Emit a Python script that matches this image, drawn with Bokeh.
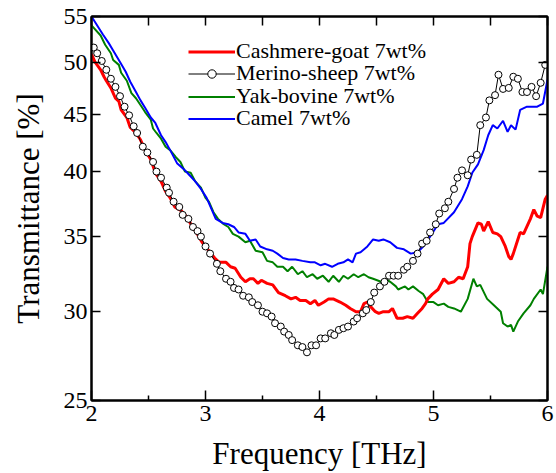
from bokeh.plotting import figure
from bokeh.models import (Range1d, FixedTicker, LogAxis, LinearAxis, Legend, LegendItem,
                          PrintfTickFormatter, CustomJSTickFormatter)
from bokeh.embed import file_html
from bokeh.resources import INLINE

FONT = "Liberation Serif"

x_ticks = [2, 3, 4, 5, 6]
x_minor_ticks = [2.5, 3.5, 4.5, 5.5]
y_ticks = [25, 30, 35, 40, 45, 50, 55]

labels = ["Cashmere-goat 7wt%", "Merino-sheep 7wt%", "Yak-bovine 7wt%", "Camel 7wt%"]

cashmere = [(2.00, 50.9), (2.03, 50.1), (2.08, 49.3), (2.11, 48.6), (2.13, 48.2), (2.17, 47.5),
            (2.21, 46.5), (2.24, 46.2), (2.26, 45.4), (2.31, 44.7), (2.34, 43.8), (2.39, 43.3),
            (2.43, 42.7), (2.47, 41.8), (2.52, 41.0), (2.56, 39.9), (2.61, 39.2), (2.65, 38.4),
            (2.69, 37.9), (2.73, 37.2), (2.79, 36.9), (2.83, 36.5), (2.88, 35.8), (2.92, 35.3),
            (2.97, 34.6), (3.02, 34.1), (3.08, 33.5), (3.12, 33.2), (3.18, 33.2), (3.22, 32.9),
            (3.26, 32.8), (3.31, 32.2), (3.35, 31.9), (3.39, 32.1), (3.42, 32.1), (3.46, 31.8),
            (3.49, 32.0), (3.54, 31.8), (3.59, 31.7), (3.64, 31.2), (3.70, 31.0), (3.75, 30.8),
            (3.79, 30.9), (3.83, 30.7), (3.88, 30.7), (3.92, 30.5), (3.96, 30.7), (3.99, 30.4),
            (4.04, 30.6), (4.08, 30.8), (4.12, 30.8), (4.18, 30.6), (4.23, 30.4), (4.27, 30.2),
            (4.32, 30.0), (4.36, 30.0), (4.39, 30.5), (4.42, 30.6), (4.45, 30.3), (4.49, 30.0),
            (4.52, 29.9), (4.56, 30.0), (4.61, 30.0), (4.64, 30.2), (4.68, 29.6), (4.73, 29.6),
            (4.77, 29.7), (4.82, 29.6), (4.86, 29.9), (4.90, 30.2), (4.93, 30.5), (4.95, 30.8),
            (4.99, 31.1), (5.04, 31.4), (5.09, 32.1), (5.13, 31.8), (5.18, 31.9), (5.22, 32.2),
            (5.26, 32.1), (5.30, 32.9), (5.32, 34.5), (5.34, 35.0), (5.39, 36.0), (5.42, 35.9),
            (5.44, 35.4), (5.48, 36.1), (5.52, 35.3), (5.56, 35.2), (5.59, 35.0), (5.63, 34.3),
            (5.66, 33.6), (5.68, 33.4), (5.70, 33.8), (5.74, 34.8), (5.76, 35.3), (5.79, 35.2),
            (5.85, 36.3), (5.88, 37.0), (5.91, 36.5), (5.94, 36.4), (5.98, 37.8), (6.00, 38.1)]

merino = [(2.02, 51.6), (2.05, 51.0), (2.09, 50.2), (2.13, 49.3), (2.17, 48.4), (2.21, 47.6),
          (2.25, 46.7), (2.29, 45.7), (2.33, 44.9), (2.37, 43.9), (2.40, 43.3), (2.45, 42.1),
          (2.49, 41.6), (2.54, 40.8), (2.57, 40.0), (2.61, 39.5), (2.66, 38.7), (2.68, 38.3),
          (2.72, 37.6), (2.77, 37.2), (2.80, 36.6), (2.85, 36.3), (2.89, 35.7), (2.93, 35.4),
          (2.96, 35.0), (3.00, 34.3), (3.04, 33.8), (3.10, 33.1), (3.13, 32.6), (3.18, 32.1),
          (3.22, 31.9), (3.25, 31.5), (3.29, 31.4), (3.33, 31.0), (3.38, 30.9), (3.41, 30.6),
          (3.46, 30.4), (3.50, 30.0), (3.54, 29.9), (3.58, 29.7), (3.61, 29.3), (3.66, 29.1),
          (3.69, 28.8), (3.73, 28.6), (3.76, 28.3), (3.81, 28.0), (3.85, 27.9), (3.89, 27.6),
          (3.93, 28.0), (3.97, 28.0), (4.01, 28.4), (4.05, 28.4), (4.10, 28.7), (4.13, 28.6),
          (4.17, 28.9), (4.21, 29.0), (4.25, 29.1), (4.30, 29.4), (4.33, 29.6), (4.38, 29.9),
          (4.41, 30.1), (4.45, 30.6), (4.48, 31.2), (4.53, 31.6), (4.57, 31.9), (4.61, 32.3),
          (4.65, 32.3), (4.69, 32.3), (4.74, 32.7), (4.77, 32.9), (4.82, 33.3), (4.86, 33.8),
          (4.90, 34.5), (4.94, 34.7), (4.97, 35.3), (5.02, 35.9), (5.05, 36.7), (5.10, 37.1),
          (5.13, 37.6), (5.18, 38.6), (5.21, 39.5), (5.25, 40.1), (5.30, 39.7), (5.33, 41.0),
          (5.38, 41.4), (5.41, 44.0), (5.46, 44.7), (5.49, 46.3), (5.54, 46.8), (5.57, 48.8),
          (5.61, 47.4), (5.66, 47.5), (5.70, 48.6), (5.74, 48.4), (5.78, 47.1), (5.82, 47.1),
          (5.86, 47.6), (5.90, 46.7), (5.94, 48.0), (5.98, 49.8)]

yak = [(2.00, 54.0), (2.08, 52.9), (2.12, 51.9), (2.17, 51.0), (2.19, 50.3), (2.24, 49.8),
       (2.26, 49.0), (2.31, 48.2), (2.35, 47.0), (2.39, 46.5), (2.44, 45.7), (2.47, 45.2),
       (2.52, 44.5), (2.54, 43.7), (2.57, 43.3), (2.61, 42.8), (2.65, 42.1), (2.69, 41.8),
       (2.74, 41.2), (2.78, 40.8), (2.82, 40.0), (2.87, 39.9), (2.91, 39.2), (2.96, 38.7),
       (3.00, 37.9), (3.03, 37.6), (3.07, 36.8), (3.11, 36.3), (3.16, 35.9), (3.20, 35.7),
       (3.24, 35.2), (3.29, 35.0), (3.35, 34.6), (3.39, 34.7), (3.44, 34.0), (3.50, 33.9),
       (3.54, 33.3), (3.59, 33.2), (3.63, 32.9), (3.68, 32.9), (3.72, 32.6), (3.76, 32.9),
       (3.81, 32.4), (3.85, 32.6), (3.89, 32.2), (3.94, 32.4), (3.98, 32.1), (4.03, 32.3),
       (4.08, 31.9), (4.12, 32.3), (4.17, 31.9), (4.21, 32.3), (4.25, 32.1), (4.30, 32.4),
       (4.34, 32.2), (4.39, 32.4), (4.43, 32.2), (4.47, 32.1), (4.54, 31.9), (4.58, 32.1),
       (4.62, 31.9), (4.67, 31.6), (4.69, 31.4), (4.75, 31.6), (4.78, 31.4), (4.82, 31.6),
       (4.87, 31.3), (4.91, 31.1), (4.95, 30.6), (5.00, 30.6), (5.04, 30.4), (5.09, 30.5),
       (5.13, 30.3), (5.18, 30.2), (5.24, 30.0), (5.30, 30.8), (5.35, 32.1), (5.38, 31.6),
       (5.41, 31.7), (5.47, 30.8), (5.53, 30.4), (5.59, 30.0), (5.61, 29.3), (5.65, 29.1),
       (5.68, 29.2), (5.70, 28.8), (5.74, 29.4), (5.79, 29.9), (5.85, 30.4), (5.88, 30.8),
       (5.94, 31.4), (5.96, 31.1), (6.00, 32.9)]

camel = [(2.00, 55.0), (2.10, 53.0), (2.15, 52.1), (2.19, 51.3), (2.25, 50.1), (2.30, 49.1),
         (2.34, 48.1), (2.39, 47.1), (2.43, 46.3), (2.47, 45.6), (2.52, 44.7), (2.56, 44.2),
         (2.61, 43.1), (2.65, 42.5), (2.69, 41.8), (2.75, 40.7), (2.81, 40.2), (2.85, 39.8),
         (2.91, 39.2), (2.96, 38.6), (3.01, 37.9), (3.09, 36.3), (3.15, 36.0), (3.20, 35.9),
         (3.25, 35.7), (3.29, 35.3), (3.35, 35.2), (3.39, 34.7), (3.44, 34.8), (3.48, 34.3),
         (3.54, 34.1), (3.59, 34.0), (3.63, 33.8), (3.68, 33.5), (3.73, 33.4), (3.79, 33.4),
         (3.85, 33.3), (3.92, 33.2), (3.96, 33.2), (4.01, 33.0), (4.05, 33.1), (4.11, 32.9),
         (4.16, 33.1), (4.21, 33.2), (4.25, 33.4), (4.29, 33.2), (4.32, 33.8), (4.36, 33.9),
         (4.42, 34.3), (4.47, 34.8), (4.52, 34.7), (4.56, 34.8), (4.62, 34.6), (4.68, 34.2),
         (4.74, 34.1), (4.80, 33.8), (4.86, 33.9), (4.91, 34.3), (4.97, 35.0), (5.04, 35.9),
         (5.09, 36.0), (5.18, 36.8), (5.25, 37.8), (5.30, 38.8), (5.34, 39.9), (5.39, 40.6),
         (5.44, 41.8), (5.48, 43.1), (5.52, 44.0), (5.56, 43.7), (5.61, 44.4), (5.65, 43.4),
         (5.68, 44.0), (5.72, 43.6), (5.76, 45.4), (5.82, 45.7), (5.91, 45.7), (5.96, 46.0),
         (6.00, 48.3)]


def split(pairs):
    return [a for a, _ in pairs], [b for _, b in pairs]


p = figure(width=556, height=473, x_range=Range1d(2, 6), y_range=Range1d(25, 55),
           y_axis_type="log", output_backend="svg", toolbar_location=None,
           min_border_left=91, min_border_right=9, min_border_top=16, min_border_bottom=71)
p.xgrid.visible = False
p.ygrid.visible = False
p.outline_line_color = "black"
p.outline_line_width = 2
p.outline_line_alpha = 1
p.background_fill_color = "white"
p.border_fill_color = "white"

xa = p.xaxis[0]
xa.ticker = FixedTicker(ticks=x_ticks, minor_ticks=x_minor_ticks)
xa.major_tick_in = 10
xa.major_tick_out = 0
xa.minor_tick_in = 5
xa.minor_tick_out = 0
xa.axis_line_width = 2
xa.major_tick_line_width = 1.5
xa.minor_tick_line_width = 1.5
xa.major_label_text_font = FONT
xa.major_label_text_font_size = "24px"
xa.major_label_text_color = "black"
xa.major_label_standoff = 5
xa.axis_label = "Frequency [THz]"
xa.axis_label_text_font = FONT
xa.axis_label_text_font_size = "31px"
xa.axis_label_text_font_style = "normal"
xa.axis_label_text_color = "black"
xa.axis_label_standoff = 12

ya = p.yaxis[0]
ya.ticker = FixedTicker(ticks=y_ticks, minor_ticks=[])
ya.formatter = PrintfTickFormatter(format="%d")
ya.major_tick_in = 9
ya.major_tick_out = 0
ya.minor_tick_in = 0
ya.minor_tick_out = 0
ya.axis_line_width = 2
ya.major_tick_line_width = 1.5
ya.major_label_text_font = FONT
ya.major_label_text_font_size = "24px"
ya.major_label_text_color = "black"
ya.major_label_standoff = 4
ya.axis_label = "Transmittance [%]"
ya.axis_label_text_font = FONT
ya.axis_label_text_font_size = "31px"
ya.axis_label_text_font_style = "normal"
ya.axis_label_text_color = "black"
ya.axis_label_standoff = 15

blank = CustomJSTickFormatter(code="return ''")
top = LinearAxis(ticker=FixedTicker(ticks=x_ticks + x_minor_ticks, minor_ticks=[]),
                 formatter=blank, major_tick_in=9, major_tick_out=0, minor_tick_in=0,
                 minor_tick_out=0, axis_line_width=2, major_tick_line_width=1.5,
                 major_label_text_font_size="0px", major_label_standoff=0)
right = LogAxis(ticker=FixedTicker(ticks=y_ticks, minor_ticks=[]),
                formatter=blank, major_tick_in=9, major_tick_out=0, minor_tick_in=0,
                minor_tick_out=0, axis_line_width=2, major_tick_line_width=1.5,
                major_label_text_font_size="0px", major_label_standoff=0)
p.add_layout(top, "above")
p.add_layout(right, "right")

fx, fy = split(yak)
r_yak = p.line(fx, fy, line_color="#008000", line_width=2)
fx, fy = split(camel)
r_camel = p.line(fx, fy, line_color="#0000ff", line_width=2)
fx, fy = split(cashmere)
r_cash = p.line(fx, fy, line_color="#ff0000", line_width=3)
fx, fy = split(merino)
r_mer_l = p.line(fx, fy, line_color="black", line_width=1)
r_mer_s = p.scatter(fx, fy, marker="circle", size=7, fill_color="white",
                    line_color="black", line_width=1)

# one single-row legend per entry, so the row pitch can match the reference
legend_rows = [(labels[0], [r_cash], 336),
               (labels[1], [r_mer_l, r_mer_s], 314),
               (labels[2], [r_yak], 291),
               (labels[3], [r_camel], 269)]
for text, rends, ypos in legend_rows:
    lg = Legend(items=[LegendItem(label=text, renderers=rends)], location=(97, ypos))
    p.add_layout(lg, "center")
    lg.glyph_width = 47
    lg.glyph_height = 21
    lg.label_height = 21
    lg.label_standoff = 1
    lg.spacing = 0
    lg.padding = 0
    lg.margin = 0
    lg.border_line_alpha = 0
    lg.background_fill_alpha = 0
    lg.label_text_font = FONT
    lg.label_text_font_size = "22px"
    lg.label_text_color = "black"

open("out.html", "w").write(file_html(p, INLINE))
